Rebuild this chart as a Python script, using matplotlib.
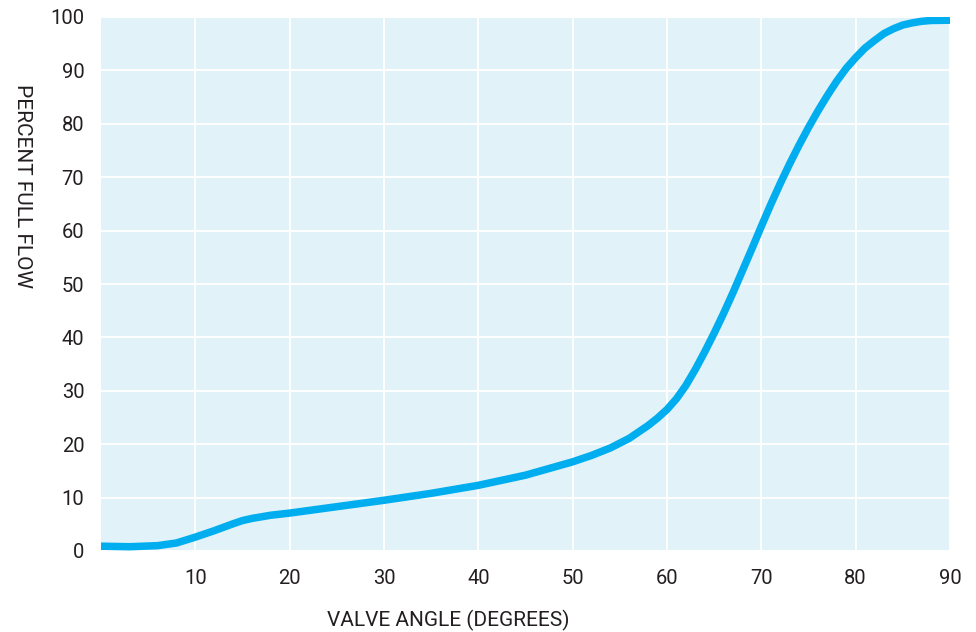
import matplotlib.pyplot as plt

# valve angle (degrees) vs percent of full flow
angle = [0, 3, 6, 8, 10, 12, 14, 15, 16, 18, 20, 25, 30, 35, 40, 45, 50, 52,
         54, 56, 58, 59, 60, 61, 62, 63, 64, 65, 66, 67, 68, 69, 70, 71, 72,
         73, 74, 75, 76, 77, 78, 79, 80, 81, 82, 83, 84, 85, 86, 87, 88, 90]
flow = [0.9, 0.8, 1.0, 1.5, 2.6, 3.8, 5.1, 5.7, 6.1, 6.7, 7.1, 8.3, 9.5, 10.8,
        12.3, 14.2, 16.7, 17.9, 19.3, 21.1, 23.5, 24.9, 26.5, 28.5, 31.0, 34.0,
        37.3, 40.8, 44.5, 48.4, 52.5, 56.6, 60.8, 64.9, 68.8, 72.5, 76.0, 79.3,
        82.4, 85.3, 88.0, 90.4, 92.4, 94.2, 95.6, 96.9, 97.8, 98.5, 98.9, 99.2,
        99.35, 99.4]
x_ticks = [10, 20, 30, 40, 50, 60, 70, 80, 90]
y_ticks = [0, 10, 20, 30, 40, 50, 60, 70, 80, 90, 100]

plt.rcParams['font.family'] = ['Roboto', 'DejaVu Sans']
text_color = '#231f20'

fig = plt.figure(figsize=(9.76, 6.32), dpi=100)
ax = fig.add_axes([101 / 976, 81 / 632, 849 / 976, 534 / 632])
ax.set_facecolor('#e1f2f9')

ax.plot(angle, flow, color='#00aeef', lw=5.4, solid_capstyle='butt',
        solid_joinstyle='round', zorder=3)

ax.set_xlim(0, 90)
ax.set_ylim(0, 100)
ax.set_xticks(x_ticks)
ax.set_yticks(y_ticks)
ax.grid(True, color='white', lw=1.4)
ax.set_axisbelow(True)
for s in ax.spines.values():
    s.set_visible(False)
ax.tick_params(length=0, labelsize=14.5, colors=text_color)
ax.tick_params(axis='x', pad=13)
ax.tick_params(axis='y', pad=12)

fig.text(448 / 976, 1 - 620 / 632, 'VALVE ANGLE (DEGREES)', ha='center', va='center',
         fontsize=15, color=text_color)
fig.text(22 / 976, 1 - 186 / 632, 'PERCENT FULL FLOW', ha='center', va='center',
         rotation=-90, fontsize=15, color=text_color)

fig.savefig('out.png', dpi=100)
